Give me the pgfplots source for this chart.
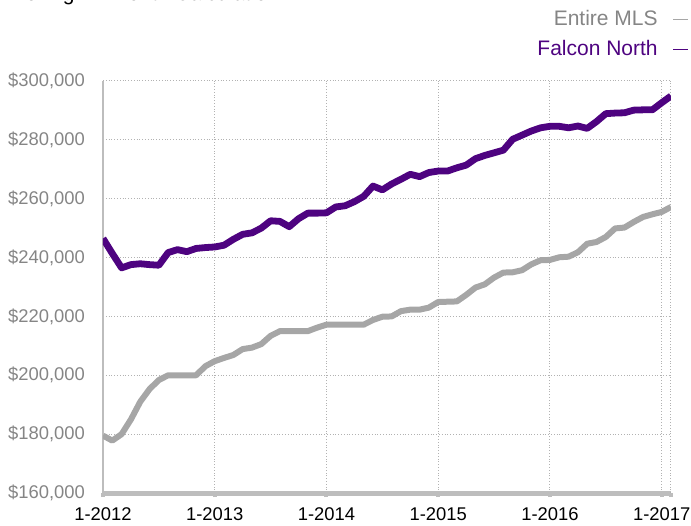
\documentclass[border=0pt]{standalone}
\usepackage{pgfplots}
\pgfplotsset{compat=1.18}
\usepackage{fontspec}
\setmainfont{Liberation Sans}
\definecolor{mlsgray}{HTML}{A6A6A6}
\definecolor{labgray}{HTML}{858585}
\definecolor{falcon}{HTML}{4E0380}
\definecolor{axgray}{HTML}{BDBDBD}
\begin{document}
\begin{tikzpicture}
\begin{axis}[
  at={(0,0)}, anchor=south west,
  scale only axis, width=284pt, height=206pt,
  xmin=0, xmax=61, ymin=160000, ymax=300000,
  scaled y ticks=false,
  axis lines=left,
  axis line style={-, draw=axgray},
  x axis line style={line width=2.5pt},
  y axis line style={line width=1.4pt},
  xtick={0,12,24,36,48,60},
  xticklabels={1-2012,1-2013,1-2014,1-2015,1-2016,1-2017},
  ytick={160000,180000,200000,220000,240000,260000,280000,300000},
  yticklabels={{\$160,000},{\$180,000},{\$200,000},{\$220,000},{\$240,000},{\$260,000},{\$280,000},{\$300,000}},
  extra x ticks={61}, extra x tick labels={},
  extra x tick style={grid=major, tick style={draw=none}},
  grid=major,
  major grid style={densely dotted, line width=0.5pt, color=black!30},
  tick align=outside,
  major tick length=2pt,
  x tick style={draw=axgray, line width=2pt},
  y tick style={draw=none},
  xticklabel style={font=\fontsize{9.2}{11}\selectfont, text=black, yshift=-2pt},
  yticklabel style={font=\fontsize{9.2}{11}\selectfont, text=labgray, xshift=-3.5pt},
  legend plot pos=right,
  legend cell align=right,
  legend image code/.code={\path (0pt,0pt); \draw[#1, line width=0.7pt] (5pt,0pt) -- (12.5pt,0pt);},
  legend style={draw=none, fill=none, inner sep=0pt, at={(axis description cs:1.032,1.18)}, anchor=north east,
    font=\fontsize{10.5}{12}\selectfont,
    nodes={inner sep=1pt, text height=8pt, text depth=2pt}, row sep=3pt},
]
\addplot[color=mlsgray, line width=3pt, line join=round] coordinates {
(0,179500)(1,177800)(2,180000)(3,185000)(4,191000)(5,195300)(6,198400)(7,200000)(8,200000)(9,200000)
(10,200000)(11,203100)(12,204800)(13,205900)(14,206900)(15,208900)(16,209400)(17,210600)(18,213400)(19,215000)
(20,215000)(21,215000)(22,215000)(23,216200)(24,217200)(25,217200)(26,217200)(27,217200)(28,217200)(29,218800)
(30,219900)(31,220000)(32,221800)(33,222300)(34,222300)(35,223000)(36,224900)(37,225000)(38,225100)(39,227300)
(40,229800)(41,230900)(42,233200)(43,234900)(44,235000)(45,235700)(46,237700)(47,239100)(48,239200)(49,240100)
(50,240300)(51,241800)(52,244700)(53,245300)(54,247000)(55,249900)(56,250200)(57,252100)(58,253800)(59,254700)
(60,255500)(61,257200)
};
\addlegendentry{\textcolor{labgray}{Entire MLS}}
\addplot[color=falcon, line width=3.4pt, line join=round] coordinates {
(0,246500)(1,241400)(2,236500)(3,237600)(4,237900)(5,237600)(6,237400)(7,241700)(8,242700)(9,242000)
(10,243100)(11,243400)(12,243600)(13,244200)(14,246200)(15,247900)(16,248400)(17,250000)(18,252500)(19,252300)
(20,250500)(21,253200)(22,255100)(23,255100)(24,255200)(25,257200)(26,257600)(27,259000)(28,260800)(29,264300)
(30,263000)(31,265000)(32,266600)(33,268300)(34,267500)(35,268900)(36,269400)(37,269400)(38,270500)(39,271400)
(40,273600)(41,274700)(42,275600)(43,276500)(44,280200)(45,281600)(46,283000)(47,284100)(48,284600)(49,284600)
(50,284100)(51,284700)(52,283900)(53,286200)(54,288900)(55,289100)(56,289200)(57,290100)(58,290200)(59,290200)
(60,292600)(61,294900)
};
\addlegendentry{\textcolor{falcon}{Falcon North}}
\end{axis}
\node[anchor=base west, font=\fontsize{10.5}{12}\selectfont, inner sep=0pt] at (-46.5pt,246.25pt) {Rolling 12-Month Calculation};
\pgfresetboundingbox
\path[use as bounding box] (-51.5pt,-16pt) rectangle (294pt,246.5pt);
\end{tikzpicture}
\end{document}
